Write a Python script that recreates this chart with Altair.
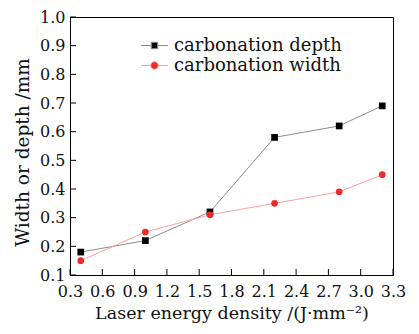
import altair as alt
import pandas as pd

energy = [0.4, 1.0, 1.6, 2.2, 2.8, 3.2]
depth = [0.18, 0.22, 0.32, 0.58, 0.62, 0.69]
width_vals = [0.15, 0.25, 0.31, 0.35, 0.39, 0.45]
series = ["carbonation depth", "carbonation width"]
x_ticks = [0.3, 0.6, 0.9, 1.2, 1.5, 1.8, 2.1, 2.4, 2.7, 3.0, 3.3]
y_ticks = [0.1, 0.2, 0.3, 0.4, 0.5, 0.6, 0.7, 0.8, 0.9, 1.0]

rows = []
for e, d in zip(energy, depth):
    rows.append({"x": e, "y": d, "s": series[0]})
for e, w in zip(energy, width_vals):
    rows.append({"x": e, "y": w, "s": series[1]})
df = pd.DataFrame(rows)

FONT = "DejaVu Serif"
W, H = 323, 258
line_colors = ["#8c8c8c", "#f5a3a0"]
marker_colors = ["#000000", "#ee2a2a"]

xscale = alt.Scale(domain=[0.3, 3.3], nice=False, zero=False)
yscale = alt.Scale(domain=[0.1, 1.0], nice=False, zero=False)

xaxis = alt.Axis(values=x_ticks, format=".1f", title="Laser energy density /(J·mm⁻²)",
                 grid=False, ticks=False, labelPadding=8, titlePadding=5,
                 labelOverlap=False, labelFlush=False, titleFontSize=17.5)
yaxis = alt.Axis(values=y_ticks, format=".1f", title="Width or depth /mm",
                 grid=False, ticks=False, labelPadding=5, titlePadding=7,
                 labelOverlap=False, labelFlush=False, titleFontSize=18.5, titleY=135)
xenc = alt.X("x:Q", scale=xscale, axis=xaxis)
yenc = alt.Y("y:Q", scale=yscale, axis=yaxis)

base = alt.Chart(df)

legend_paths = [
    "M-1.35,0H-0.32M0.32,0H1.35M-0.32,-0.32H0.32V0.32H-0.32Z",
    "M-1.35,0H-0.38M0.38,0H1.35M0.38,0A0.38,0.38 0 1,1 -0.38,0A0.38,0.38 0 1,1 0.38,0Z",
]

lines = base.mark_line(strokeWidth=1).encode(
    x=xenc, y=yenc,
    color=alt.Color("s:N", scale=alt.Scale(domain=series, range=line_colors), legend=None),
)
points = base.mark_point(filled=True, opacity=1, size=45).encode(
    x=xenc, y=yenc,
    fill=alt.Fill("s:N", scale=alt.Scale(domain=series, range=marker_colors), legend=None),
    shape=alt.Shape("s:N", scale=alt.Scale(domain=series, range=["square", "circle"]), legend=None),
)
leg = alt.Legend(title=None, orient="none", legendX=74, legendY=18,
                 symbolSize=400, symbolStrokeWidth=1, labelFontSize=18,
                 labelFont=FONT, labelColor="#111111", rowPadding=0,
                 labelOffset=9, labelLimit=400)
legend_layer = base.transform_filter("datum.x > 100").mark_point(
    filled=False, opacity=1, strokeWidth=1
).encode(
    x=xenc, y=yenc,
    color=alt.Color("s:N", scale=alt.Scale(domain=series, range=line_colors), legend=leg),
    fill=alt.Fill("s:N", scale=alt.Scale(domain=series, range=marker_colors), legend=leg),
    shape=alt.Shape("s:N", scale=alt.Scale(domain=series, range=legend_paths), legend=leg),
)

xt = alt.Chart(pd.DataFrame({"t": x_ticks})).mark_rule(color="black", strokeWidth=1).encode(
    x=alt.X("t:Q", scale=xscale, axis=xaxis), y=alt.value(H), y2=alt.value(H - 6))
yt = alt.Chart(pd.DataFrame({"t": y_ticks})).mark_rule(color="black", strokeWidth=1).encode(
    y=alt.Y("t:Q", scale=yscale, axis=yaxis), x=alt.value(0), x2=alt.value(6))

chart = alt.layer(lines, points, legend_layer, xt, yt).resolve_scale(
    fill="independent", shape="independent", color="independent"
).properties(
    width=W, height=H, background="white",
    autosize=alt.AutoSizeParams(type="none"),
    padding={"left": 62, "top": 9, "right": 18, "bottom": 51},
).configure_view(stroke="black", strokeWidth=1).configure_axis(
    domainColor="black", labelFont=FONT, titleFont=FONT,
    labelFontSize=16, titleFontSize=17, labelColor="#111111", titleColor="#111111",
    titleFontWeight="normal", labelAngle=0,
)

chart.save("out.html", embed_options={"renderer": "svg", "actions": False})
